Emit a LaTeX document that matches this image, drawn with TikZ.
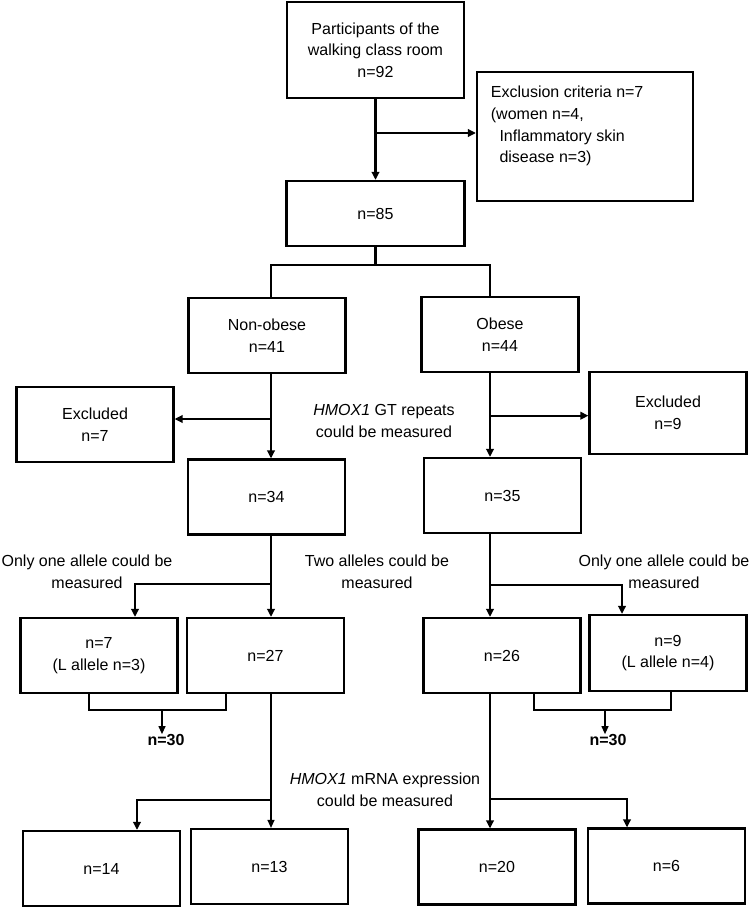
\documentclass[tikz,border=0pt]{standalone}
\usepackage{fontspec}
\setmainfont{Liberation Sans}
\usetikzlibrary{arrows.meta}
\newcommand{\flowfont}{\fontsize{16}{21.7}\selectfont}
\tikzset{
  box/.style={draw, line width=2.2pt, inner sep=0pt, align=center, font=\flowfont},
  wbox/.style={box, minimum width=157pt, minimum height=75pt},
  lab/.style={font=\flowfont, align=center, inner sep=0pt},
  arr/.style={-{Triangle[length=8pt,width=7.5pt]}, line width=2.2pt},
  thinarr/.style={-{Triangle[length=8pt,width=7pt]}, line width=1.2pt},
  conn/.style={line width=2.2pt},
  thinconn/.style={line width=1.2pt}
}

\begin{document}
\begin{tikzpicture}[x=1pt,y=-1pt]
\useasboundingbox (0,0) rectangle (752,909);

% ---------------- Enrolment ----------------
\node[box, minimum width=177pt, minimum height=96pt] (part) at (375.5,50) {Participants of the\\walking class room\\n=92};
\node[box, minimum width=216pt, minimum height=129pt] (excl) at (585,136.5) {};
\node[lab, anchor=north west, align=left] (exclt) at (490.7,86) {Exclusion criteria n=7\\(women n=4,\\\hspace{8.6pt}Inflammatory skin\\\hspace{8.6pt}disease n=3)};
\node[box, minimum width=178pt, minimum height=65pt] (n85) at (375.5,213.5) {n=85};

% ---------------- Obesity groups ----------------
\node[wbox] (nonob) at (267,335.5) {Non-obese\\n=41};
\node[wbox] (obese) at (500,334.5) {Obese\\n=44};
\node[wbox] (exc7) at (95,424.5) {Excluded\\n=7};
\node[wbox, minimum height=82pt] (exc9) at (668,413) {Excluded\\n=9};
\node[lab] (gt) at (384,421) {\textit{HMOX1} GT repeats\\could be measured};
\node[wbox] (n34) at (266.5,497) {n=34};
\node[wbox] (n35) at (502.5,495.5) {n=35};

% ---------------- Alleles ----------------
\node[lab] (one1) at (87,571.5) {Only one allele could be\\measured};
\node[lab] (two) at (377,571.5) {Two alleles could be\\measured};
\node[lab] (one2) at (664,572) {Only one allele could be\\measured};
\node[wbox] (n7) at (99,655.5) {n=7\\(L allele n=3)};
\node[wbox] (n27) at (265.5,655.5) {n=27};
\node[wbox] (n26) at (502,655.5) {n=26};
\node[wbox, minimum height=76pt] (n9) at (668,653) {n=9\\(L allele n=4)};
\node[lab, font=\flowfont\bfseries] (n30l) at (166,740) {n=30};
\node[lab, font=\flowfont\bfseries] (n30r) at (608,740) {n=30};

% ---------------- mRNA ----------------
\node[lab] (mrna) at (385,790) {\textit{HMOX1} mRNA expression\\could be measured};
\node[wbox] (n14) at (101.5,868.5) {n=14};
\node[wbox] (n13) at (269.5,866.5) {n=13};
\node[wbox] (n20) at (497,867) {n=20};
\node[wbox] (n6) at (666.5,866) {n=6};

% ---------------- Connectors ----------------
\coordinate (lx) at (271,0);
\coordinate (rx) at (490,0);
\coordinate (lx2) at (135,0);
\coordinate (rx2) at (622,0);
\coordinate (lx3) at (137,0);
\coordinate (rx3) at (627,0);
\coordinate (lb1) at (89,0);
\coordinate (lb2) at (226,0);
\coordinate (rb1) at (534,0);
\coordinate (rb2) at (671,0);

\coordinate (b0) at (375.5,133);
\draw[arr] (part.south) -- (n85.north);
\draw[arr] (b0) -- (b0 -| excl.west);

\coordinate (sp) at (375.5,265);
\draw[conn] (n85.south) -- (sp);
\draw[conn] (nonob.north -| lx) |- (sp) -| (obese.north -| rx);

\coordinate (bl) at (271,419);
\coordinate (br) at (490,415.7);
\draw[arr] (nonob.south -| lx) -- (n34.north -| lx);
\draw[arr] (bl) -- (bl -| exc7.east);
\draw[arr] (obese.south -| rx) -- (n35.north -| rx);
\draw[arr] (br) -- (br -| exc9.west);

\coordinate (al) at (271,584);
\coordinate (ar) at (490,585);
\draw[arr] (n34.south -| lx) -- (n27.north -| lx);
\draw[arr] (al) -| (n7.north -| lx2);
\draw[arr] (n35.south -| rx) -- (n26.north -| rx);
\draw[arr] (ar) -| (n9.north -| rx2);

\coordinate (ml) at (162,710);
\coordinate (mr) at (605,710);
\draw[thinconn] (n7.south -| lb1) |- (ml) -| (n27.south -| lb2);
\draw[thinarr] (ml) -- (ml |- n30l.north);
\draw[thinconn] (n26.south -| rb1) |- (mr) -| (n9.south -| rb2);
\draw[thinarr] (mr) -- (mr |- n30r.north);

\coordinate (el) at (271,800);
\coordinate (er) at (490,799);
\draw[thinarr] (n27.south -| lx) -- (n13.north -| lx);
\draw[arr] (el) -| (n14.north -| lx3);
\draw[arr] (n26.south -| rx) -- (n20.north -| rx);
\draw[arr] (er) -| (n6.north -| rx3);

\end{tikzpicture}
\end{document}
